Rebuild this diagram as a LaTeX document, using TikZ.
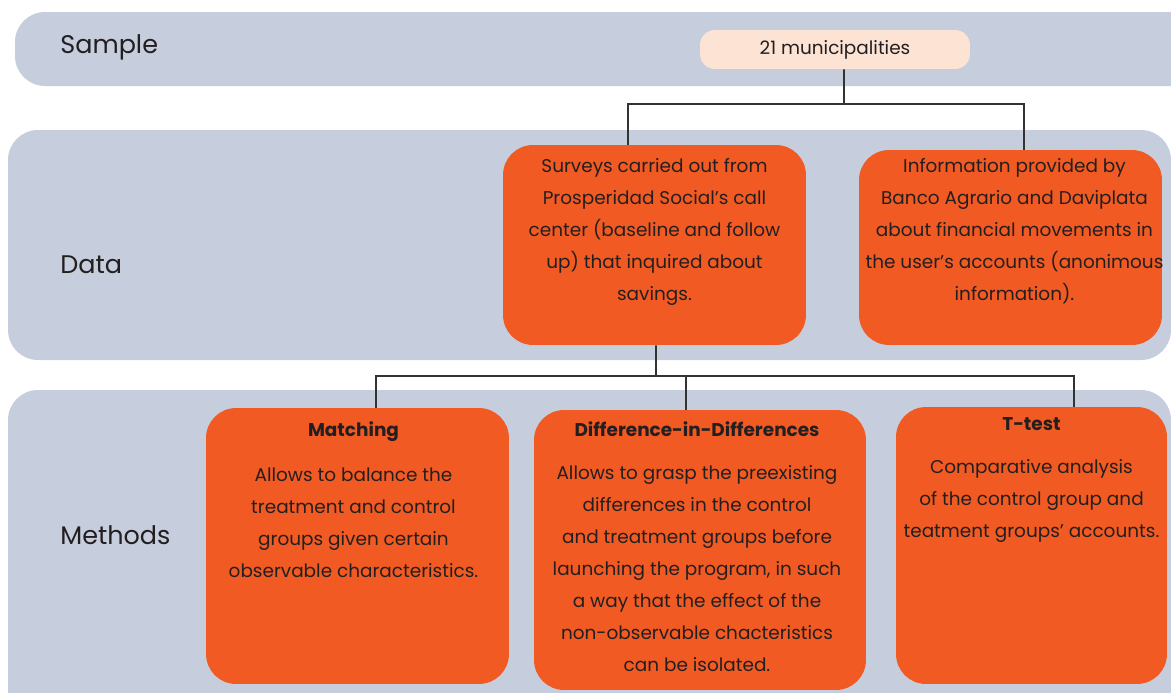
\documentclass[tikz,border=0pt]{standalone}
\usepackage{fontspec}
\setmainfont{Poppins}
\definecolor{bandgray}{HTML}{C6CDDD}
\definecolor{boxorange}{HTML}{F15A22}
\definecolor{boxpeach}{HTML}{FDE3D3}
\definecolor{txtdark}{HTML}{231F20}
\definecolor{linegray}{HTML}{333333}
\usetikzlibrary{positioning}

\begin{document}
\begin{tikzpicture}[x=0.02cm,y=-0.02cm,
  band/.style={fill=bandgray,rounded corners=0.6cm},
  bandlabel/.style={anchor=west,inner sep=0pt,text=txtdark,font=\fontsize{14.5}{18}\selectfont},
  obox/.style={fill=boxorange,rounded corners=0.6cm,inner sep=0pt},
  otext/.style={inner sep=0pt,align=center,text=txtdark,font=\fontsize{10.5}{18.2}\selectfont},
  otitle/.style={inner sep=0pt,text=txtdark,font=\fontsize{10.5}{12}\selectfont\bfseries},
  conn/.style={draw=linegray,line width=1.1pt}
]
  \useasboundingbox (0,0) rectangle (1171,693);
  \clip (0,0) rectangle (1171,693);

  % Bands
  \fill[band] (15,12) rectangle (1210,86);
  \fill[band] (8,130) rectangle (1171,360);
  \fill[band] (8,390) rectangle (1171,730);
  \node[bandlabel] (lsample) at (60,47) {Sample};
  \node[bandlabel] (ldata) at (60,265) {Data};
  \node[bandlabel] (lmethods) at (60,535) {Methods};

  % Sample
  \node[fill=boxpeach,rounded corners=0.3cm,minimum width=5.4cm,minimum height=0.78cm,
    text=txtdark,font=\fontsize{10.5}{12}\selectfont] (muni) at (835,49.5) {21 municipalities};

  % Data sources
  \node[obox,minimum width=6.06cm,minimum height=4cm] (surveys) at (654.5,245) {};
  \node[otext,below=0.26cm of surveys.north] (surveystxt) {Surveys carried out from\\
    Prosperidad Social’s call\\center (baseline and follow\\up) that inquired about\\savings.};
  \node[obox,minimum width=6.06cm,minimum height=3.9cm] (info) at (1010.5,247.5) {};
  \node[otext,below=0.16cm of info.north,xshift=0.08cm] (infotxt) {Information provided by\\
    Banco Agrario and Daviplata\\about financial movements in\\the user’s accounts (anonimous\\information).};

  % Methods
  \node[obox,minimum width=6.06cm,minimum height=5.52cm] (match) at (357.5,546) {};
  \node[otitle,below=0.28cm of match.north,xshift=-0.08cm] (matchttl) {Matching};
  \node[otext,below=0.5cm of matchttl.south] (matchtxt) {Allows to balance the\\
    treatment and control\\groups given certain\\observable characteristics.};

  \node[obox,minimum width=6.64cm,minimum height=5.6cm] (did) at (700,550) {};
  \node[otitle,below=0.24cm of did.north,xshift=-0.06cm] (didttl) {Difference-in-Differences};
  \node[otext,below=0.56cm of didttl.south] (didtxt) {Allows to grasp the preexisting\\
    differences in the control\\and treatment groups before\\launching the program, in such\\
    a way that the effect of the\\non-observable chacteristics\\can be isolated.};

  \node[obox,minimum width=5.42cm,minimum height=5.54cm] (ttest) at (1031.5,545.5) {};
  \node[otitle,below=0.22cm of ttest.north] (ttestttl) {T-test};
  \node[otext,below=0.56cm of ttestttl.south] (ttesttxt) {Comparative analysis\\
    of the control group and\\teatment groups’ accounts.};

  % Connectors
  \coordinate (fork1) at (844,104);
  \draw[conn] ([xshift=0.18cm]muni.south) -- (fork1);
  \draw[conn] (fork1) -| ([xshift=-0.53cm]surveys.north);
  \draw[conn] (fork1) -| ([xshift=0.27cm]info.north);

  \coordinate (fork2) at (656,376);
  \draw[conn] ([xshift=0.03cm]surveys.south) -- (fork2);
  \draw[conn] (fork2) -| ([xshift=0.37cm]match.north);
  \draw[conn] (fork2) -| ([xshift=-0.28cm]did.north);
  \draw[conn] (fork2) -| ([xshift=0.85cm]ttest.north);
\end{tikzpicture}
\end{document}
